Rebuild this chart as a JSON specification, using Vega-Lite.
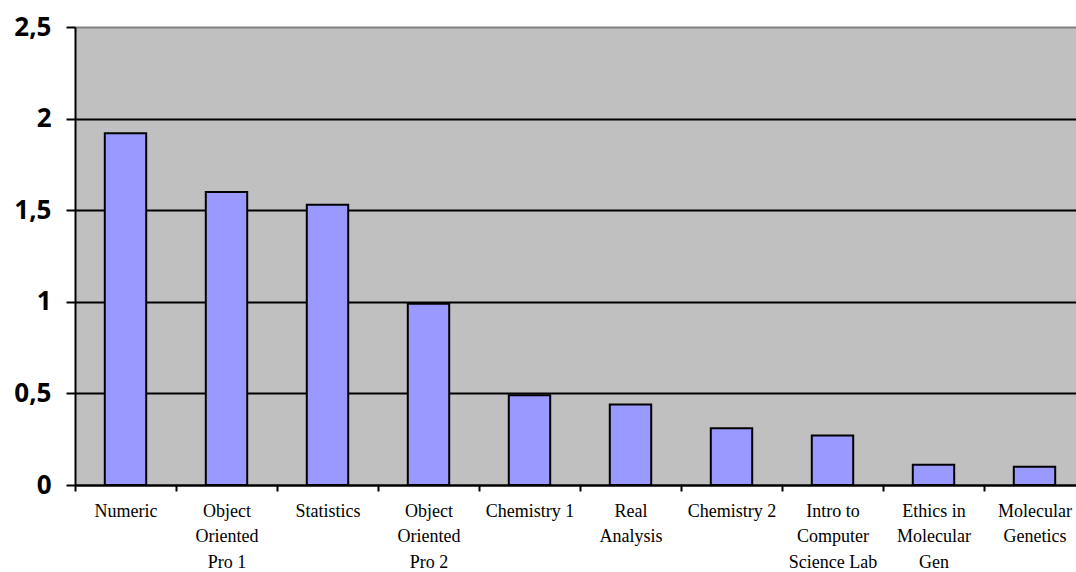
{
  "$schema": "https://vega.github.io/schema/vega-lite/v6.json",
  "width": 1010,
  "height": 458,
  "autosize": {"type": "none"},
  "padding": {"left": 75, "top": 27, "right": 0, "bottom": 87},
  "background": "white",
  "config": {"view": {"fill": "#C0C0C0", "stroke": null}},
  "data": {
    "values": [
      {"course": "Numeric", "value": 1.92},
      {"course": "Object Oriented Pro 1", "value": 1.60},
      {"course": "Statistics", "value": 1.53},
      {"course": "Object Oriented Pro 2", "value": 0.99},
      {"course": "Chemistry 1", "value": 0.49},
      {"course": "Real Analysis", "value": 0.44},
      {"course": "Chemistry 2", "value": 0.31},
      {"course": "Intro to Computer Science Lab", "value": 0.27},
      {"course": "Ethics in Molecular Gen", "value": 0.11},
      {"course": "Molecular Genetics", "value": 0.10}
    ]
  },
  "mark": {"type": "bar", "fill": "#9999FF", "stroke": "black", "strokeWidth": 2, "width": {"band": 0.41}},
  "encoding": {
    "x": {
      "field": "course",
      "type": "nominal",
      "sort": null,
      "scale": {"paddingInner": 0, "paddingOuter": 0},
      "axis": {
        "title": null,
        "labelAngle": 0,
        "labelFont": "Liberation Serif",
        "labelFontSize": 18,
        "labelColor": "black",
        "labelLineHeight": 25.5,
        "labelPadding": 11,
        "labelBaseline": "top",
        "labelLimit": 0,
        "tickBand": "extent",
        "tickSize": 6,
        "tickWidth": 2,
        "tickColor": "black",
        "domainColor": "black",
        "domainWidth": 2,
        "labelExpr": "({'Object Oriented Pro 1': ['Object', 'Oriented', 'Pro 1'], 'Object Oriented Pro 2': ['Object', 'Oriented', 'Pro 2'], 'Real Analysis': ['Real', 'Analysis'], 'Intro to Computer Science Lab': ['Intro to', 'Computer', 'Science Lab'], 'Ethics in Molecular Gen': ['Ethics in', 'Molecular', 'Gen'], 'Molecular Genetics': ['Molecular', 'Genetics']})[datum.label] || datum.label"
      }
    },
    "y": {
      "field": "value",
      "type": "quantitative",
      "scale": {"domain": [0, 2.5], "nice": false},
      "axis": {
        "title": null,
        "values": [0, 0.5, 1, 1.5, 2, 2.5],
        "labelFont": "Open Sans",
        "labelFontWeight": "bold",
        "labelFontSize": 26,
        "labelColor": "black",
        "labelPadding": 15,
        "tickSize": 9,
        "tickWidth": 2,
        "tickColor": "black",
        "domainColor": "black",
        "domainWidth": 2,
        "grid": true,
        "gridColor": {"condition": {"test": "datum.value == 2.5", "value": "#808080"}, "value": "black"},
        "gridWidth": 2,
        "gridOpacity": 1,
        "labelExpr": "replace(format(datum.value, '~g'), '.', ',')"
      }
    }
  }
}
